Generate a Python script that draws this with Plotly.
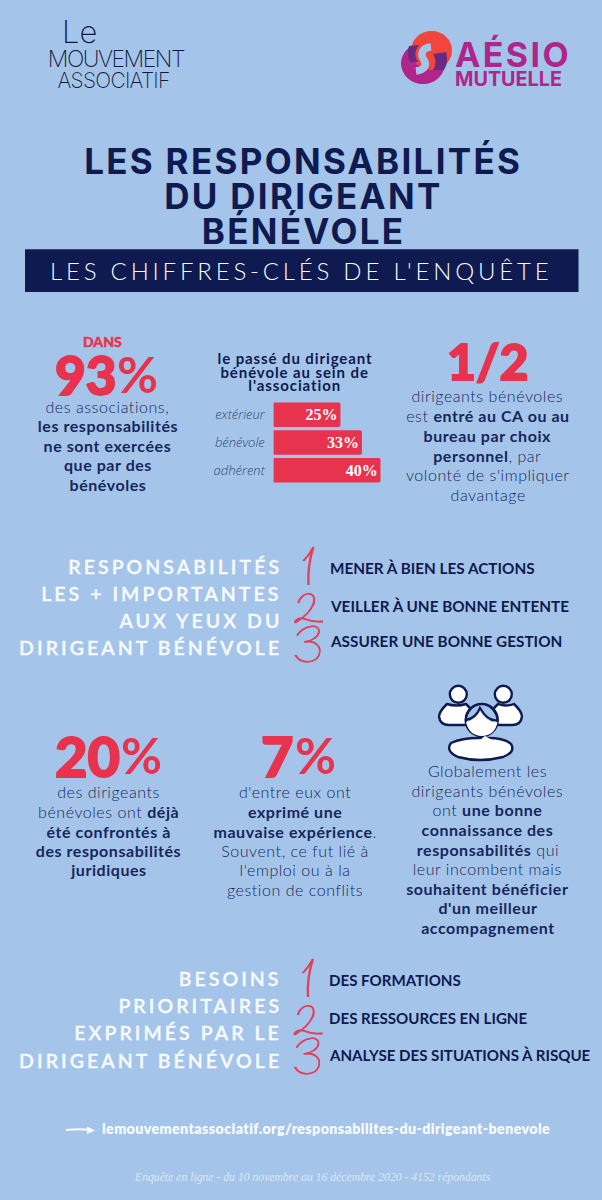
import plotly.graph_objects as go

# ---- chart data
bar_categories = ["extérieur", "bénévole", "adhérent"]
bar_values = [25, 33, 40]

# ---- texts
title_lines = ["LES RESPONSABILITÉS", "DU DIRIGEANT", "BÉNÉVOLE"]
banner_text = "LES CHIFFRES-CLÉS DE L'ENQUÊTE"
block_93 = ["des associations,", "<b>les responsabilités</b>", "<b>ne sont exercées</b>", "<b>que par des</b>", "<b>bénévoles</b>"]
chart_title = ["le passé du dirigeant", "bénévole au sein de", "l'association"]
block_half = ["dirigeants bénévoles", "est <b>entré au CA ou au</b>", "<b>bureau par choix</b>", "<b>personnel</b>, par", "volonté de s'impliquer", "davantage"]
resp_lines = ["RESPONSABILITÉS", "LES + IMPORTANTES", "AUX YEUX DU", "DIRIGEANT BÉNÉVOLE"]
resp_items = ["MENER À BIEN LES ACTIONS", "VEILLER À UNE BONNE ENTENTE", "ASSURER UNE BONNE GESTION"]
block_20 = ["des dirigeants", "bénévoles ont <b>déjà</b>", "<b>été confrontés à</b>", "<b>des responsabilités</b>", "<b>juridiques</b>"]
block_7 = ["d'entre eux ont", "<b>exprimé une</b>", "<b>mauvaise expérience</b>.", "Souvent, ce fut lié à", "l'emploi ou à la", "gestion de conflits"]
block_glob = ["Globalement les", "dirigeants bénévoles", "ont <b>une bonne</b>", "<b>connaissance des</b>", "<b>responsabilités</b> qui", "leur incombent mais", "<b>souhaitent bénéficier</b>", "<b>d'un meilleur</b>", "<b>accompagnement</b>"]
need_lines = ["BESOINS", "PRIORITAIRES", "EXPRIMÉS PAR LE", "DIRIGEANT BÉNÉVOLE"]
need_items = ["DES FORMATIONS", "DES RESSOURCES EN LIGNE", "ANALYSE DES SITUATIONS À RISQUE"]
url_text = "lemouvementassociatif.org/responsabilites-du-dirigeant-benevole"
footer_text = "Enquête en ligne - du 10 novembre au 16 décembre 2020 - 4152 répondants"

# ---- styles
BG = "#a4c5e9"
NAVY = "#0f1a50"
BODY = "#17265c"
RED = "#e8334e"
MAG = "#b0248c"
ORG = "#f2453c"
PUR = "#6a2a82"
WHITE = "#f7fafd"
SANS = "Lato"

ann = []
def T(x, y, text, size, color=BODY, anchor="center", weight=300, family=SANS, style="normal"):
    ann.append(dict(x=x, y=y, xref="x", yref="y", text=text, showarrow=False, xanchor=anchor, yanchor="middle",
                    align=anchor if anchor != "center" else "center",
                    font=dict(family=family, size=size, color=color, weight=weight, style=style)))

def block(x, ys, lines, size=16, **kw):
    for y, t in zip(ys, lines):
        T(x, y, t, size, **kw)

# logos
T(79, 31, "Le", 31, "#12193c", weight=200, family="Inter")
T(116, 59, "MOUVEMENT", 23, "#12193c", weight=200, family="Inter")
T(113, 80, "ASSOCIATIF", 21, "#12193c", weight=200, family="Inter")
T(452.5, 54, "<b>AÉSIO</b>", 34, MAG, anchor="left", family="Inter", weight=800)
T(452.5, 79, "<b>MUTUELLE</b>", 19.8, MAG, anchor="left", family="Inter", weight=800)

# title
block(303, [161, 196, 231], title_lines, size=35, color=NAVY, weight=700, family="Inter")
T(301, 270, banner_text, 24, WHITE, weight=300, family=SANS)

# row 1
T(102, 341, "DANS", 14, RED, weight=900)
T(118, 374, "93", 53, RED, anchor="right", weight=900)
T(115, 374, "%", 50, RED, anchor="left", weight=700)
block(107.7, [406.7, 425.7, 445, 464.7, 484.7], block_93)
block(294.6, [358.3, 371.7, 385], chart_title, size=15, color=NAVY, weight=700, family=SANS)
T(487.5, 361, "1/2", 50, RED, weight=900)
block(487.7, [395.7, 415, 435, 455, 474, 494], block_half)

# row 2
block(284, [566, 593, 620.7, 647.3], resp_lines, size=19.5, color=WHITE, anchor="right", weight=600)
block(328, [567.7, 605.7, 641], resp_items, size=15.3, color=NAVY, anchor="left", weight=700)

# row 3
T(121.5, 755, "20", 56, RED, anchor="right", weight=900)
T(119, 755, "%", 50, RED, anchor="left", weight=700)
block(108, [791, 811, 831, 850, 869.7], block_20)
T(294.5, 755, "7", 56, RED, anchor="right", weight=900)
T(293, 755, "%", 50, RED, anchor="left", weight=700)
block(295.4, [791, 811, 831, 850, 869.7, 889.7], block_7)
block(487.7, [770, 790, 809, 829, 849, 868, 888, 907.5, 927], block_glob)

# row 4
block(284, [978, 1005.7, 1032.7, 1060], need_lines, size=19.5, color=WHITE, anchor="right", weight=600)
block(327, [980, 1017.7, 1054.7], need_items, size=15.1, color=NAVY, anchor="left", weight=700)

T(99.5, 1128.5, url_text, 14.2, WHITE, anchor="left", weight=800)
T(312.7, 1177.7, footer_text, 11.7, "#dbe7f5", family="Liberation Serif", style="italic", weight=400)

# ---- decoration shapes
shapes = []
def P(path, fill=None, line=None, w=0):
    shapes.append(dict(type="path", path=path, xref="x", yref="y", layer="above",
                       fillcolor=fill if fill else "rgba(0,0,0,0)",
                       line=dict(color=line if line else "rgba(0,0,0,0)", width=w)))
def C(cx, cy, rx, ry, fill=None, line=None, w=0):
    shapes.append(dict(type="circle", xref="x", yref="y", layer="above", x0=cx-rx, x1=cx+rx, y0=cy-ry, y1=cy+ry,
                       fillcolor=fill if fill else "rgba(0,0,0,0)",
                       line=dict(color=line if line else "rgba(0,0,0,0)", width=w)))

shapes.append(dict(type="rect", xref="x", yref="y", layer="below", x0=25, x1=578.5, y0=249.3, y1=292,
                   fillcolor=NAVY, line=dict(width=0)))

# Aesio mark
C(423, 63.5, 22, 20.5, fill=MAG)
C(431.5, 50.5, 20.5, 19.5, fill=ORG)
P("M409,46 L419,45 Q412,53 418,62 L410,62 Q406,54 409,46 Z", fill=PUR)
P("M433,54 L446,52 Q449,62 444,70 L433,70 Q438,62 433,54 Z", fill=PUR)
P("M431,47 C420,48 421,56 424,60 C427,65 425,70 416,71", line=BG, w=7.5)

# handwritten ranks
def ranks(dy, dx=0):
    X = lambda v: v + dx
    Y = lambda v: v + dy
    col = "#e2405e"
    for off in (0, 0.9):
        P(f"M{X(303+off)},{Y(561)} Q{X(309)},{Y(555)} {X(313+off)},{Y(547)} Q{X(307+off)},{Y(565)} {X(308+off)},{Y(585)}", line=col, w=1.5)
        P(f"M{X(298+off)},{Y(603)} C{X(301)},{Y(591)} {X(318)},{Y(590)} {X(313+off)},{Y(604)} C{X(310)},{Y(612)} {X(303)},{Y(618)} {X(297)},{Y(621+off)} "
          f"C{X(292)},{Y(625)} {X(296)},{Y(616)} {X(305)},{Y(619)} C{X(310)},{Y(621)} {X(316)},{Y(622)} {X(323)},{Y(621+off)}", line=col, w=1.5)
        P(f"M{X(297)},{Y(635+off)} C{X(304)},{Y(625)} {X(320)},{Y(623)} {X(319)},{Y(632)} C{X(318)},{Y(637)} {X(312)},{Y(641)} {X(304+off)},{Y(642)} "
          f"C{X(316)},{Y(640)} {X(322)},{Y(647)} {X(319)},{Y(655)} C{X(316)},{Y(663)} {X(301)},{Y(665)} {X(295+off)},{Y(655)}", line=col, w=1.5)
ranks(0)
ranks(412, -0.5)

# arrow
P("M66,1130 Q80,1128.5 92,1130", line=WHITE, w=2)
P("M87,1126.5 L95,1130.5 L87,1134 Z", fill=WHITE)

# people icon
def body(x0, x1, ytop, ybot):
    m = (x0 + x1) / 2
    return f"M{x0+8},{ytop} Q{x0},{(ytop+ybot)/2-3} {x0},{(ytop+ybot)/2+2} Q{x0+1},{ybot} {x0+10},{ybot} L{x1-10},{ybot} Q{x1-1},{ybot} {x1},{(ytop+ybot)/2+2} Q{x1},{(ytop+ybot)/2-3} {x1-8},{ytop} Q{m},{ytop+3} {x0+8},{ytop} Z"
P(body(439, 474, 704, 725), fill="white", line=NAVY, w=2.4)
P(body(490, 522, 704, 725), fill="white", line=NAVY, w=2.4)
C(458.3, 694.3, 8.5, 8.5, fill="white", line=NAVY, w=2.4)
C(503.3, 694.3, 8.5, 8.5, fill="white", line=NAVY, w=2.4)
C(481.7, 720, 16, 16, fill=BG, line=NAVY, w=2.4)
P("M466,720 C466,712 472,705 481.7,704 C491,705 497,712 497.5,720 Q488,722 480,708 Q476,718 466,720 Z", fill=BG, line=NAVY, w=2.2)
P("M466,722 C468,731 474,736 481.7,736 C490,736 496,731 497.5,722 Q488,724 480,711 Q476,720 466,722 Z", fill="white")
P("M451,743 Q462,738 478,738 L488,738 Q505,738 511,744 Q516,752 503,757 Q480,763 458,757 Q445,751 451,743 Z", fill="white", line=NAVY, w=2.4)
P("M485,736 L492,740 L486,742 L480,740 Z", fill="white")

# ---- figure
fig = go.Figure()
fig.add_trace(go.Bar(x=bar_values, y=bar_categories, orientation="h", xaxis="x2", yaxis="y2",
                     marker=dict(color=RED, line=dict(width=0), cornerradius=2),
                     text=[f"{v}%" for v in bar_values], textposition="inside", insidetextanchor="end",
                     textangle=0, textfont=dict(family="Liberation Serif", size=16, color="white", weight=700),
                     hoverinfo="skip", showlegend=False))
W, H = 602, 1200
fig.update_layout(
    width=W, height=H, margin=dict(l=0, r=0, t=0, b=0), paper_bgcolor=BG, plot_bgcolor="rgba(0,0,0,0)",
    showlegend=False, bargap=0.115, annotations=ann, shapes=shapes,
    xaxis=dict(range=[0, W], domain=[0, 1], visible=False, fixedrange=True),
    yaxis=dict(range=[H, 0], domain=[0, 1], visible=False, fixedrange=True),
    xaxis2=dict(range=[0, 40], domain=[273.4 / W, 380.7 / W], anchor="y2", visible=False, fixedrange=True),
    yaxis2=dict(domain=[1 - 484.2 / H, 1 - 400.8 / H], anchor="x2", autorange="reversed", showline=False, showgrid=False,
                ticks="outside", ticklen=5, tickcolor=BG, tickfont=dict(family="Open Sans", size=13, color="#32457a", weight=300, style="italic"), fixedrange=True),
)
post = """
document.body.style.margin='0';document.body.style.background='%s';
var sp={'%s':3.8,'LES RESPONSABILITÉS':2.3,'DU DIRIGEANT':2.3,'BÉNÉVOLE':2.3,
'MOUVEMENT':-1.5,'ASSOCIATIF':-0.7,'AÉSIO':2.4,'%s':0.4};
var heads=['RESPONSABILITÉS','LES + IMPORTANTES','AUX YEUX DU','DIRIGEANT BÉNÉVOLE','BESOINS','PRIORITAIRES','EXPRIMÉS PAR LE'];
heads.forEach(function(k){sp[k]=3.05;});
var heavy={'93':1.8,'20':1.8,'7':1.8,'1/2':1.8,'DANS':0.4};
document.querySelectorAll('.annotation-text').forEach(function(t){
  var k=t.textContent, fs=parseFloat(t.style.fontSize);
  if(sp[k]!==undefined){t.style.letterSpacing=sp[k]+'px';}
  else if(fs===16){t.style.letterSpacing='0.55px';}
  else if(fs===15){t.style.letterSpacing='0.9px';}
  if(heavy[k]!==undefined){t.style.stroke='%s';t.style.strokeWidth=heavy[k]+'px';}
  if(heads.indexOf(k)>=0){t.style.stroke='%s';t.style.strokeWidth='0.35px';}
});
""" % (BG, banner_text.replace("'", "\\'"), url_text, RED, WHITE)
fig.write_html("out.html", config={"displayModeBar": False}, post_script=post)
